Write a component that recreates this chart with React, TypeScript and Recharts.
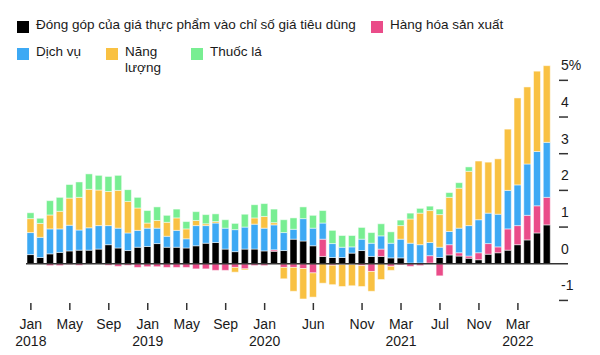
import React from 'react';
import { BarChart, Bar, XAxis, YAxis, ReferenceLine } from 'recharts';

// --- DATA ---
const MONTHS = [
  '2018-01', '2018-02', '2018-03', '2018-04', '2018-05', '2018-06', '2018-07', '2018-08', '2018-09', '2018-10', '2018-11', '2018-12',
  '2019-01', '2019-02', '2019-03', '2019-04', '2019-05', '2019-06', '2019-07', '2019-08', '2019-09', '2019-10', '2019-11', '2019-12',
  '2020-01', '2020-02', '2020-03', '2020-04', '2020-05', '2020-06', '2020-07', '2020-08', '2020-09', '2020-10', '2020-11', '2020-12',
  '2021-01', '2021-02', '2021-03', '2021-04', '2021-05', '2021-06', '2021-07', '2021-08', '2021-09', '2021-10', '2021-11', '2021-12',
  '2022-01', '2022-02', '2022-03', '2022-04', '2022-05', '2022-06',
];

// contributions in percentage points
const FOOD = [
  0.25, 0.17, 0.27, 0.31, 0.35, 0.37, 0.37, 0.40, 0.52, 0.43, 0.36, 0.45,
  0.47, 0.55, 0.45, 0.45, 0.43, 0.49, 0.56, 0.58, 0.40, 0.33, 0.40, 0.40,
  0.35, 0.34, 0.36, 0.67, 0.62, 0.49, 0.20, 0.17, 0.17, 0.29, 0.36, 0.20,
  0.20, 0.16, 0.16, 0.02, 0.02, 0.02, 0.17, 0.24, 0.21, 0.15, 0.11, 0.26,
  0.30, 0.37, 0.52, 0.65, 0.84, 1.06,
];
const GOODS = [
  0, 0, -0.05, -0.05, -0.02, -0.04, 0, 0, -0.04, -0.07, -0.04, -0.10,
  -0.08, -0.08, -0.10, -0.10, -0.10, -0.14, -0.14, -0.18, -0.18, -0.10, -0.14, -0.05,
  -0.05, 0.04, -0.10, -0.10, -0.13, -0.25, 0.47, -0.04, -0.02, -0.02, -0.05, -0.21,
  0.20, -0.07, -0.03, -0.07, -0.05, 0.20, -0.33, 0.28, 0.09, 0.06, 0.19, 0.29,
  0.16, 0.58, 0.52, 0.67, 0.74, 0.75,
];
const SERVICES = [
  0.60, 0.55, 0.68, 0.64, 0.70, 0.55, 0.61, 0.64, 0.52, 0.54, 0.48, 0.46,
  0.50, 0.42, 0.30, 0.46, 0.25, 0.55, 0.48, 0.53, 0.57, 0.60, 0.60, 0.68,
  0.62, 0.68, 0.49, 0.27, 0.61, 0.48, 0.44, 0.38, 0.28, 0.17, 0.31, 0.36,
  0.36, 0.40, 0.51, 0.54, 0.50, 0.36, 0.28, 0.36, 0.67, 0.83, 0.90, 0.83,
  0.89, 1.05, 1.11, 1.40, 1.48, 1.50,
];
const ENERGY = [
  0.38, 0.38, 0.38, 0.48, 0.74, 0.89, 1.05, 0.97, 0.93, 1.03, 0.86, 0.61,
  0.14, 0.21, 0.38, 0.34, 0.27, 0.14, 0.05, 0.04, 0, -0.13, -0.03, 0.17,
  0.32, 0.06, -0.31, -0.65, -0.83, -0.66, -0.53, -0.53, -0.60, -0.58, -0.57, -0.54,
  -0.43, -0.11, 0.37, 0.66, 0.86, 0.87, 0.89, 0.93, 1.09, 1.48, 1.60, 1.39,
  1.51, 1.67, 2.37, 2.10, 2.19, 2.09,
];
const TOBACCO = [
  0.16, 0.14, 0.39, 0.38, 0.37, 0.42, 0.42, 0.40, 0.41, 0.41, 0.32, 0.29,
  0.34, 0.37, 0.19, 0.24, 0.20, 0.24, 0.25, 0.21, 0.23, 0.17, 0.35, 0.36,
  0.35, 0.37, 0.35, 0.31, 0.32, 0.35, 0.34, 0.36, 0.32, 0.31, 0.32, 0.29,
  0.33, 0.31, 0.15, 0.16, 0.13, 0.12, 0.15, 0.13, 0.15, 0.12, 0, 0,
  0, 0, 0, 0, 0, 0,
];

const TICK_MONTHS = ['2018-01', '2018-05', '2018-09', '2019-01', '2019-05', '2019-09', '2020-01', '2020-06', '2020-11', '2021-03', '2021-07', '2021-11', '2022-03'];
const TICK_LABELS = ['Jan', 'May', 'Sep', 'Jan', 'May', 'Sep', 'Jan', 'Jun', 'Nov', 'Mar', 'Jul', 'Nov', 'Mar'];
const TICK_YEARS = ['2018', '', '', '2019', '', '', '2020', '', '', '2021', '', '', '2022'];
const Y_TICKS = [-1, 0, 1, 2, 3, 4, 5];

const COLORS = {
  food: '#000000',
  goods: '#EA4C89',
  services: '#3DA9F4',
  energy: '#F9C142',
  tobacco: '#78EE92',
};

const FONT = '"Liberation Sans", Arial, Helvetica, sans-serif';
const TEXT = '#1a1a1a';
const CHART_W = 600;
const CHART_H = 355;
const Y_AXIS_W = 48;
const PLOT_RIGHT = CHART_W - Y_AXIS_W;

const data = MONTHS.map((month, i) => ({
  month,
  food: FOOD[i],
  goods: GOODS[i],
  services: SERVICES[i],
  energy: ENERGY[i],
  tobacco: TOBACCO[i],
}));

const XTick = (props: any) => {
  const { x, y, payload } = props;
  const i = TICK_MONTHS.indexOf(payload.value);
  if (i < 0) return null;
  return (
    <g>
      <line x1={x} x2={x} y1={y} y2={y + 7} stroke="#333" strokeWidth={1.5} />
      <text x={x} y={y + 26} textAnchor="middle" fontSize={14} fill={TEXT} fontFamily={FONT}>{TICK_LABELS[i]}</text>
      {TICK_YEARS[i] && (
        <text x={x} y={y + 43} textAnchor="middle" fontSize={14} fill={TEXT} fontFamily={FONT}>{TICK_YEARS[i]}</text>
      )}
    </g>
  );
};

const YTick = (props: any) => {
  const { y, payload } = props;
  const v = payload.value;
  return (
    <g>
      <line x1={v === 0 ? PLOT_RIGHT : PLOT_RIGHT + 7} x2={PLOT_RIGHT + 16} y1={y} y2={y} stroke="#333" strokeWidth={1.5} />
      <text x={PLOT_RIGHT + 9} y={y - 10} textAnchor="start" fontSize={14} fill={TEXT} fontFamily={FONT}>
        {v === 5 ? '5%' : String(v)}
      </text>
    </g>
  );
};

const LegendItem = ({ left, top, color, children }: { left: number; top: number; color: string; children: React.ReactNode }) => (
  <div style={{ position: 'absolute', left, top, display: 'flex', alignItems: 'flex-start' }}>
    <span style={{ width: 12, height: 12, background: color, marginTop: 4, marginRight: 7, flex: 'none' }} />
    <span style={{ fontSize: 13.5, lineHeight: '16px', color: TEXT, fontFamily: FONT }}>{children}</span>
  </div>
);

export default function App() {
  return (
    <div style={{ position: 'absolute', left: 0, top: 0, width: CHART_W, height: CHART_H, background: '#fff' }}>
      <LegendItem left={17} top={17} color={COLORS.food}>Đóng góp của giá thực phẩm vào chỉ số giá tiêu dùng</LegendItem>
      <LegendItem left={371} top={17} color={COLORS.goods}>Hàng hóa sản xuất</LegendItem>
      <LegendItem left={17} top={44} color={COLORS.services}>Dịch vụ</LegendItem>
      <LegendItem left={106} top={44} color={COLORS.energy}>Năng<br />lượng</LegendItem>
      <LegendItem left={191} top={44} color={COLORS.tobacco}>Thuốc lá</LegendItem>
      <div style={{ position: 'absolute', left: 0, top: 0 }}>
        <BarChart
          width={CHART_W}
          height={CHART_H}
          data={data}
          stackOffset="sign"
          margin={{ top: 62, right: 0, left: 26, bottom: 0 }}
        >
          <XAxis
            dataKey="month"
            ticks={TICK_MONTHS}
            interval={0}
            height={52}
            axisLine={false}
            tickLine={false}
            tickSize={0}
            tickMargin={0}
            tick={(p: any) => <XTick {...p} />}
          />
          <YAxis
            orientation="right"
            type="number"
            width={Y_AXIS_W}
            domain={[-1.07, 5.5]}
            ticks={Y_TICKS}
            allowDataOverflow
            axisLine={false}
            tickLine={false}
            tickSize={0}
            tickMargin={0}
            tick={(p: any) => <YTick {...p} />}
          />
          <Bar dataKey="food" stackId="a" fill={COLORS.food} barSize={7} stroke="#fff" strokeWidth={0.5} isAnimationActive={false} />
          <Bar dataKey="goods" stackId="a" fill={COLORS.goods} barSize={7} stroke="#fff" strokeWidth={0.5} isAnimationActive={false} />
          <Bar dataKey="services" stackId="a" fill={COLORS.services} barSize={7} stroke="#fff" strokeWidth={0.5} isAnimationActive={false} />
          <Bar dataKey="energy" stackId="a" fill={COLORS.energy} barSize={7} stroke="#fff" strokeWidth={0.5} isAnimationActive={false} />
          <Bar dataKey="tobacco" stackId="a" fill={COLORS.tobacco} barSize={7} stroke="#fff" strokeWidth={0.5} isAnimationActive={false} />
          <ReferenceLine y={0} stroke="#333" strokeWidth={1.5} />
        </BarChart>
      </div>
    </div>
  );
}
